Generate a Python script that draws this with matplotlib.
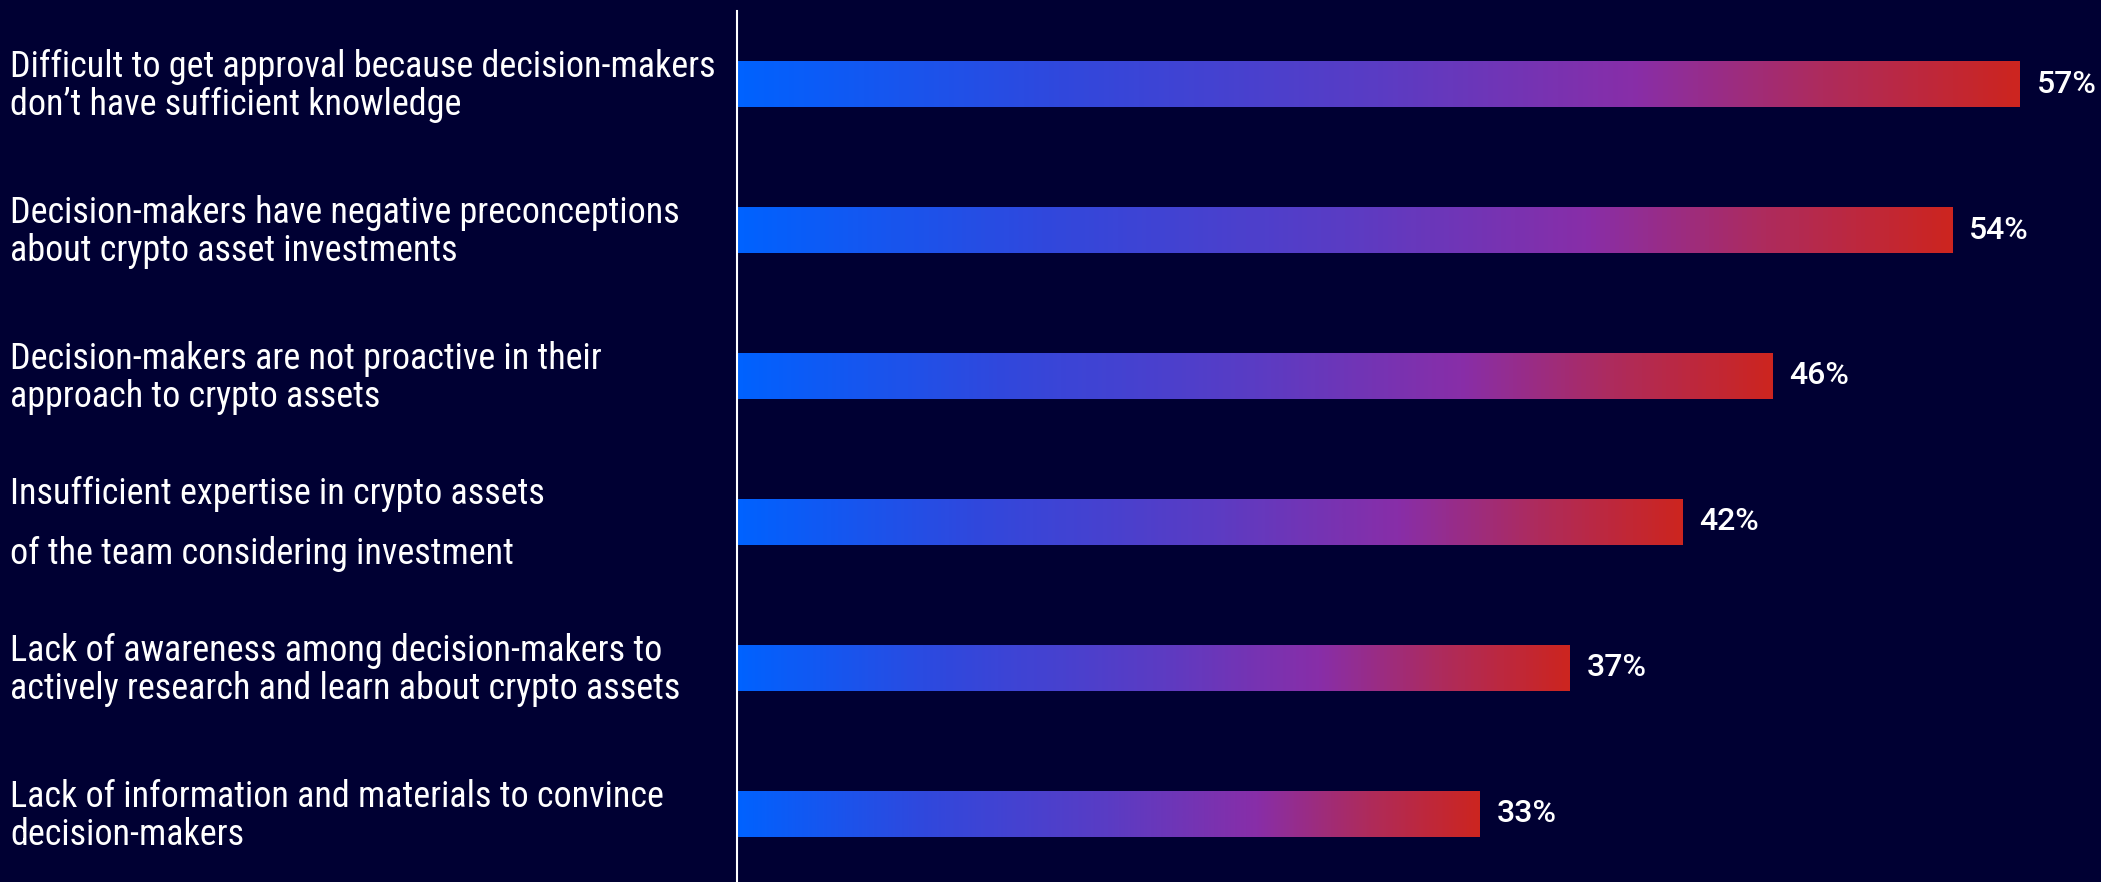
import numpy as np
import matplotlib
matplotlib.use("Agg")
from matplotlib import pyplot as plt
from matplotlib.colors import LinearSegmentedColormap
from matplotlib import font_manager

labels = [
    "Difficult to get approval because decision-makers\ndon\u2019t have sufficient knowledge",
    "Decision-makers have negative preconceptions\nabout crypto asset investments",
    "Decision-makers are not proactive in their\napproach to crypto assets",
    "Insufficient expertise in crypto assets\nof the team considering investment",
    "Lack of awareness among decision-makers to\nactively research and learn about crypto assets",
    "Lack of information and materials to convince\ndecision-makers",
]
values = [57, 54, 46, 42, 37, 33]

bg = "#000033"
cmap = LinearSegmentedColormap.from_list("grad", [
    (0.0, "#0062FF"), (0.25, "#3048DD"), (0.5, "#5A3CC4"),
    (0.7, "#882EA8"), (0.85, "#AE2B5C"), (1.0, "#CC2520")])

names = {f.name for f in font_manager.fontManager.ttflist}
fam = ['DejaVu Sans']
for cand in ['Liberation Sans Narrow', 'Roboto Condensed', 'Open Sans Condensed']:
    if cand in names:
        fam = [cand, 'DejaVu Sans']
        break
plt.rcParams['font.family'] = fam
plt.rcParams['font.stretch'] = 'condensed'

fig = plt.figure(figsize=(21.01, 8.82), dpi=100, facecolor=bg)
ax = fig.add_axes([0.3508, 0, 0.6492, 0.9875], facecolor=bg)

h = 0.315
grad = np.linspace(0, 1, 256).reshape(1, -1)
for i, v in enumerate(values):
    ax.imshow(grad, cmap=cmap, aspect='auto', interpolation='bicubic',
              extent=[0, v, i + h / 2, i - h / 2], zorder=2)
    ax.text(v + 0.75, i, f"{v}%", color="white", fontsize=23,
            va="center", ha="left", fontweight="medium",
            family=['Roboto', 'DejaVu Sans'], fontstretch='normal')
    ls = 1.85 if i == 3 else 1.09
    fig.text(0.0048, 1 - (86 + 146 * i) / 882, labels[i], color="white",
             fontsize=26, va="center", ha="left", linespacing=ls)

ax.set_xlim(0, 60.62)
ax.set_ylim(5.466, -0.5)
ax.set_xticks([])
ax.set_yticks([])
for s in ["top", "right", "bottom"]:
    ax.spines[s].set_visible(False)
ax.spines["left"].set_color("white")
ax.spines["left"].set_linewidth(1.5)

fig.savefig("out.png", dpi=100, facecolor=bg)
